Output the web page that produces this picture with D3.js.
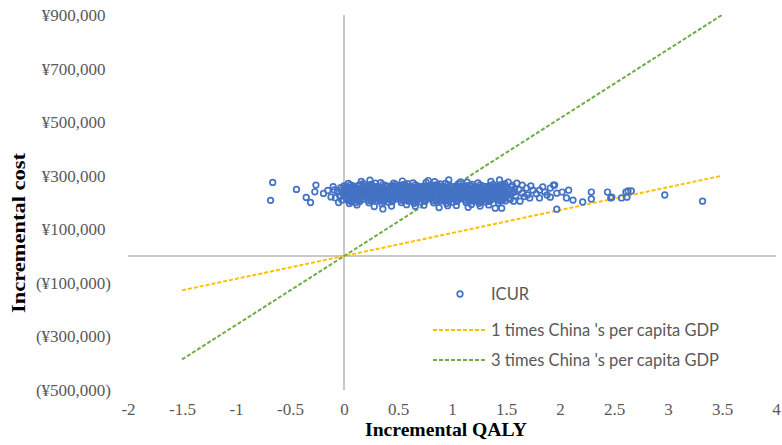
<!DOCTYPE html>
<html>
<head>
<meta charset="utf-8">
<script src="https://cdn.jsdelivr.net/npm/d3@7"></script>
<style>
  body { margin: 0; background: #fff; }
</style>
</head>
<body>
<div id="chart-area"></div>
<script>
// cost values are in ¥ thousands
const xTicks = [-2, -1.5, -1, -0.5, 0, 0.5, 1, 1.5, 2, 2.5, 3, 3.5, 4]
const yTicks = [900, 700, 500, 300, 100, -100, -300, -500]

const legendLabels = ["ICUR", "1 times China 's per capita GDP", "3 times China 's per capita GDP"]

// threshold lines (end points)
const gdp1Line = [[-1.5, -128], [3.5, 300]]
const gdp3Line = [[-1.5, -386], [3.5, 900]]

// ICUR points [incremental QALY, incremental cost]
const icurPoints = [
  [-0.66,275],[-0.68,208],[-0.44,249],[-0.26,265],[-0.27,240],[-0.35,219],[-0.31,200],[-0.19,234],[-0.10,259],[-0.12,221],[-0.15,245],
  [-0.08,218],[-0.06,241],[-0.04,226],[-0.03,255],[-0.02,209],[-0.01,233],[-0.09,247],[-0.05,200],[-0.015,238],[-0.035,222],[-0.025,246],
  [0.01,236],[0.02,258],[0.03,214],[0.04,247],[0.05,225],[0.06,266],[0.07,203],[0.08,240],[0.09,229],[0.02,219],[0.04,271],[0.06,244],[0.08,210],[0.01,252],[0.03,232],[0.05,196],[0.07,255],[0.09,218],[0.00,262],[0.06,228],[0.10,249],[0.04,207],[0.08,262],[0.03,240],[0.07,233],
  [0.11,221],[0.12,253],[0.13,237],[0.14,205],[0.15,268],[0.16,229],[0.17,246],[0.18,213],[0.19,259],[0.12,241],[0.14,226],[0.16,279],[0.18,232],[0.11,200],[0.13,263],[0.15,217],[0.17,238],[0.19,224],[0.12,191],[0.16,250],[0.18,270],[0.14,244],[0.13,209],[0.17,258],[0.20,234],
  [0.21,247],[0.22,219],[0.23,264],[0.24,231],[0.25,206],[0.26,253],[0.27,238],[0.28,222],[0.29,272],[0.22,240],[0.24,257],[0.26,213],[0.28,245],[0.21,228],[0.23,199],[0.25,236],[0.27,262],[0.29,216],[0.24,283],[0.26,229],[0.28,185],[0.22,251],[0.30,242],[0.25,268],[0.27,209],
  [0.31,233],[0.32,256],[0.33,214],[0.34,248],[0.35,225],[0.36,267],[0.37,203],[0.38,241],[0.39,230],[0.32,220],[0.34,274],[0.36,237],[0.38,211],[0.31,260],[0.33,243],[0.35,195],[0.37,252],[0.39,219],[0.33,228],[0.36,176],[0.38,264],[0.34,207],[0.40,246],[0.31,216],[0.37,236],
  [0.41,224],[0.42,250],[0.43,238],[0.44,207],[0.45,263],[0.46,230],[0.47,245],[0.48,215],[0.49,257],[0.42,236],[0.44,226],[0.46,272],[0.48,233],[0.41,201],[0.43,261],[0.45,219],[0.47,240],[0.49,223],[0.44,187],[0.46,251],[0.48,268],[0.42,244],[0.45,211],[0.47,256],[0.50,229],
  [0.51,246],[0.52,220],[0.53,262],[0.54,232],[0.55,208],[0.56,254],[0.57,237],[0.58,223],[0.59,270],[0.52,239],[0.54,258],[0.56,214],[0.58,244],[0.51,227],[0.53,200],[0.55,235],[0.57,265],[0.59,217],[0.54,280],[0.56,228],[0.58,192],[0.52,252],[0.60,241],[0.55,267],[0.57,210],
  [0.61,232],[0.62,255],[0.63,215],[0.64,249],[0.65,224],[0.66,266],[0.67,204],[0.68,242],[0.69,231],[0.62,221],[0.64,273],[0.66,238],[0.68,212],[0.61,259],[0.63,244],[0.65,197],[0.67,253],[0.69,218],[0.63,227],[0.66,186],[0.68,262],[0.64,206],[0.70,247],[0.61,215],[0.67,235],
  [0.71,225],[0.72,251],[0.73,237],[0.74,206],[0.75,262],[0.76,231],[0.77,246],[0.78,214],[0.79,258],[0.72,237],[0.74,225],[0.76,275],[0.78,232],[0.71,202],[0.73,260],[0.75,218],[0.77,241],[0.79,222],[0.74,190],[0.76,250],[0.78,282],[0.72,243],[0.75,210],[0.77,255],[0.80,228],
  [0.81,245],[0.82,221],[0.83,263],[0.84,233],[0.85,207],[0.86,253],[0.87,238],[0.88,222],[0.89,269],[0.82,240],[0.84,257],[0.86,215],[0.88,245],[0.81,226],[0.83,199],[0.85,234],[0.87,264],[0.89,216],[0.84,278],[0.86,229],[0.88,181],[0.82,250],[0.90,241],[0.85,266],[0.87,209],
  [0.91,233],[0.92,256],[0.93,216],[0.94,248],[0.95,225],[0.96,267],[0.97,205],[0.98,241],[0.99,230],[0.92,220],[0.94,271],[0.96,237],[0.98,212],[0.91,260],[0.93,243],[0.95,196],[0.97,252],[0.99,219],[0.93,228],[0.96,188],[0.98,263],[0.94,207],[1.00,246],[0.91,214],[0.97,284],
  [1.01,224],[1.02,250],[1.03,238],[1.04,206],[1.05,262],[1.06,230],[1.07,245],[1.08,215],[1.09,257],[1.02,236],[1.04,226],[1.06,270],[1.08,233],[1.01,201],[1.03,261],[1.05,219],[1.07,240],[1.09,223],[1.04,189],[1.06,251],[1.08,277],[1.02,244],[1.05,211],[1.07,256],[1.10,229],
  [1.11,246],[1.12,220],[1.13,262],[1.14,232],[1.15,208],[1.16,254],[1.17,237],[1.18,223],[1.19,268],[1.12,239],[1.14,258],[1.16,214],[1.18,244],[1.11,227],[1.13,200],[1.15,235],[1.17,264],[1.19,217],[1.14,276],[1.16,228],[1.18,193],[1.12,252],[1.20,241],[1.15,182],[1.17,210],
  [1.21,232],[1.22,255],[1.23,215],[1.24,249],[1.25,224],[1.26,266],[1.27,204],[1.28,242],[1.29,231],[1.22,221],[1.24,273],[1.26,238],[1.28,212],[1.21,259],[1.23,244],[1.25,197],[1.27,253],[1.29,218],[1.23,227],[1.26,187],[1.28,262],[1.24,206],[1.30,247],[1.21,215],[1.27,235],
  [1.31,225],[1.32,251],[1.33,237],[1.34,206],[1.35,262],[1.36,231],[1.37,246],[1.38,214],[1.39,258],[1.32,237],[1.34,225],[1.36,279],[1.38,232],[1.31,202],[1.33,260],[1.35,218],[1.37,241],[1.39,222],[1.34,191],[1.36,250],[1.38,268],[1.32,243],[1.35,210],[1.37,255],[1.40,228],
  [1.41,245],[1.42,221],[1.43,263],[1.44,233],[1.45,207],[1.46,253],[1.47,238],[1.48,222],[1.49,269],[1.42,240],[1.44,257],[1.46,215],[1.48,245],[1.41,226],[1.43,199],[1.45,234],[1.47,264],[1.49,216],[1.40,179],[1.46,179],[1.44,284],[1.42,250],[1.50,241],[1.45,266],[1.47,209],
  [0.005,228],[0.015,243],[0.025,212],[0.035,255],[0.045,236],[0.055,220],[0.065,249],[0.075,207],[0.085,233],[0.095,260],
  [0.105,216],[0.115,240],[0.125,226],[0.135,252],[0.145,204],[0.155,231],[0.165,246],[0.175,214],[0.185,258],[0.195,239],
  [0.205,223],[0.215,251],[0.225,208],[0.235,235],[0.245,262],[0.255,218],[0.265,243],[0.275,229],[0.285,254],[0.295,206],
  [0.305,232],[0.315,247],[0.325,211],[0.335,257],[0.345,237],[0.355,221],[0.365,250],[0.375,209],[0.385,234],[0.395,261],
  [0.405,217],[0.415,241],[0.425,227],[0.435,253],[0.445,203],[0.455,232],[0.465,247],[0.475,213],[0.485,259],[0.495,238],
  [0.505,224],[0.515,250],[0.525,209],[0.535,236],[0.545,263],[0.555,219],[0.565,242],[0.575,228],[0.585,255],[0.595,205],
  [0.605,231],[0.615,246],[0.625,212],[0.635,256],[0.645,238],[0.655,222],[0.665,249],[0.675,208],[0.685,233],[0.695,259],
  [0.705,218],[0.715,242],[0.725,226],[0.735,254],[0.745,205],[0.755,230],[0.765,245],[0.775,215],[0.785,257],[0.795,240],
  [0.805,222],[0.815,252],[0.825,207],[0.835,234],[0.845,261],[0.855,217],[0.865,244],[0.875,229],[0.885,253],[0.895,206],
  [0.905,233],[0.915,248],[0.925,210],[0.935,256],[0.945,236],[0.955,223],[0.965,251],[0.975,208],[0.985,232],[0.995,258],
  [1.005,216],[1.015,243],[1.025,225],[1.035,252],[1.045,204],[1.055,233],[1.065,247],[1.075,214],[1.085,259],[1.095,237],
  [1.105,221],[1.115,249],[1.125,208],[1.135,235],[1.145,262],[1.155,218],[1.165,241],[1.175,230],[1.185,254],[1.195,205],
  [1.205,232],[1.215,246],[1.225,211],[1.235,257],[1.245,239],[1.255,222],[1.265,250],[1.275,207],[1.285,234],[1.295,260],
  [1.305,217],[1.315,242],[1.325,226],[1.335,253],[1.345,204],[1.355,231],[1.365,248],[1.375,213],[1.385,258],[1.395,238],
  [1.405,223],[1.415,251],[1.425,209],[1.435,236],[1.445,261],[1.455,219],[1.465,243],[1.475,228],[1.485,255],[1.495,206],
  [1.51,232],[1.52,276],[1.53,218],[1.54,247],[1.55,258],[1.56,236],[1.57,205],[1.58,250],[1.59,226],[1.52,241],[1.54,212],[1.56,264],[1.58,239],[1.60,272],[1.53,228],
  [1.65,265],[1.69,254],[1.65,235],[1.70,228],[1.75,246],[1.81,246],[1.86,239],[1.91,254],[1.95,265],[1.97,235],[1.81,217],[1.91,220],[1.72,217],[1.62,248],[1.67,222],[1.78,233],[1.84,258],[1.63,205],[1.73,262],[1.88,228],
  [1.94,265],[1.97,175],[2.02,239],[2.08,246],[2.06,217],[2.12,209],[2.21,202],[2.29,239],[2.29,213],[2.44,239],[2.48,220],[2.47,217],[2.57,217],[2.61,239],[2.63,243],[2.66,243],[2.62,220],[2.97,228],[3.32,205]
]

const WIDTH = 782
const HEIGHT = 445

const svg = d3.select("#chart-area")
    .append("svg")
    .attr("width", WIDTH)
    .attr("height", HEIGHT)
    .style("background", "#fff")

const x = d3.scaleLinear().domain([-2, 4]).range([128, 776])
const y = d3.scaleLinear().domain([-500, 900]).range([390, 15])

const fmt = d3.format(",")
const yLabel = d => d < 0 ? `(¥${fmt(-d * 1000)})` : `¥${fmt(d * 1000)}`

// y tick labels
const yAxis = svg.append("g")
    .attr("transform", "translate(111,0)")
    .call(d3.axisLeft(y).tickValues(yTicks).tickFormat(yLabel).tickSize(0).tickPadding(0))
yAxis.select(".domain").remove()
yAxis.selectAll("text")
    .attr("dx", d => d < 0 ? 0 : "-0.33em")
    .style("font-family", "'Liberation Serif', serif")
    .style("font-size", "17px")
    .attr("fill", "#595959")

// x tick labels
const xAxis = svg.append("g")
    .attr("transform", "translate(0,390)")
    .call(d3.axisBottom(x).tickValues(xTicks).tickFormat(d => String(d)).tickSize(0).tickPadding(13))
xAxis.select(".domain").remove()
xAxis.selectAll("text")
    .style("font-family", "'Liberation Serif', serif")
    .style("font-size", "17px")
    .attr("fill", "#595959")

// zero axes
svg.append("line")
    .attr("x1", x(-2)).attr("x2", x(4))
    .attr("y1", y(0)).attr("y2", y(0))
    .attr("stroke", "#c8c8c8").attr("stroke-width", 2)
svg.append("line")
    .attr("x1", x(0)).attr("x2", x(0))
    .attr("y1", y(900)).attr("y2", y(-500))
    .attr("stroke", "#c8c8c8").attr("stroke-width", 2)

// axis titles
svg.append("text")
    .attr("x", 446)
    .attr("y", 436)
    .attr("text-anchor", "middle")
    .attr("textLength", 162)
    .attr("lengthAdjust", "spacingAndGlyphs")
    .style("font-family", "'Liberation Serif', serif")
    .style("font-weight", "bold")
    .style("font-size", "19px")
    .text("Incremental QALY")

svg.append("text")
    .attr("transform", "translate(25,233) rotate(-90)")
    .attr("text-anchor", "middle")
    .attr("textLength", 160)
    .attr("lengthAdjust", "spacingAndGlyphs")
    .style("font-family", "'Liberation Serif', serif")
    .style("font-weight", "bold")
    .style("font-size", "19px")
    .text("Incremental cost")

// threshold lines
const line = d3.line().x(d => x(d[0])).y(d => y(d[1]))
svg.append("path")
    .attr("d", line(gdp1Line))
    .attr("fill", "none")
    .attr("stroke", "#ffc000")
    .attr("stroke-width", 2)
    .attr("stroke-dasharray", "4,2")
svg.append("path")
    .attr("d", line(gdp3Line))
    .attr("fill", "none")
    .attr("stroke", "#70ad47")
    .attr("stroke-width", 2)
    .attr("stroke-dasharray", "4,2")

// ICUR scatter
svg.append("g")
    .selectAll("circle")
    .data(icurPoints)
    .enter()
    .append("circle")
    .attr("cx", d => x(d[0]))
    .attr("cy", d => y(d[1]))
    .attr("r", 2.8)
    .attr("fill", "none")
    .attr("stroke", "#4472c4")
    .attr("stroke-width", 1.7)

// legend
const legend = svg.append("g")
    .style("font-family", "Lato, 'Open Sans', sans-serif")
    .style("font-size", "16.5px")

legend.append("circle")
    .attr("cx", 460).attr("cy", 294).attr("r", 2.8)
    .attr("fill", "none").attr("stroke", "#4472c4").attr("stroke-width", 1.7)
legend.append("line")
    .attr("x1", 433).attr("x2", 485).attr("y1", 330).attr("y2", 330)
    .attr("stroke", "#ffc000").attr("stroke-width", 2).attr("stroke-dasharray", "4,2")
legend.append("line")
    .attr("x1", 433).attr("x2", 485).attr("y1", 360).attr("y2", 360)
    .attr("stroke", "#70ad47").attr("stroke-width", 2).attr("stroke-dasharray", "4,2")

legend.selectAll("text")
    .data(legendLabels)
    .enter()
    .append("text")
    .attr("x", 491)
    .attr("y", (d, i) => [294, 330, 360][i])
    .attr("dy", "0.35em")
    .attr("fill", "#595959")
    .text(d => d)
</script>
</body>
</html>
